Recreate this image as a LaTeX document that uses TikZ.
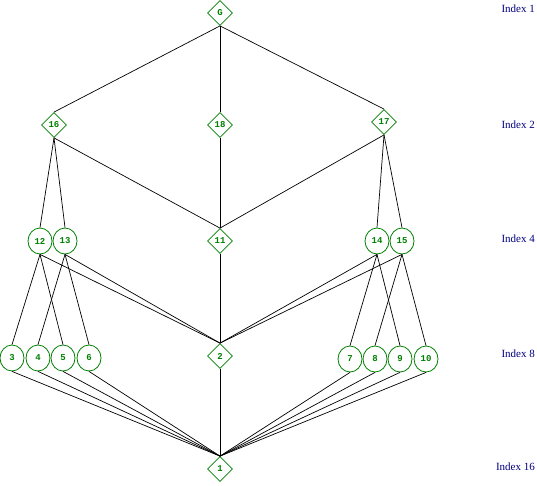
\documentclass[tikz,border=0pt]{standalone}
\usepackage{fontspec}
\setmainfont{Liberation Serif}
\setmonofont{Liberation Mono}
\usetikzlibrary{shapes.geometric}
\definecolor{ngreen}{RGB}{0,128,0}
\definecolor{navyblue}{RGB}{0,0,128}
\tikzset{
  dia/.style={diamond, draw=ngreen, line width=0.8pt, minimum width=25pt, minimum height=25pt, inner sep=0pt, aspect=1, text=ngreen, font=\ttfamily\bfseries\fontsize{9}{9}\selectfont},
  cir/.style={ellipse, draw=ngreen, line width=0.8pt, minimum width=24pt, minimum height=26pt, inner sep=0pt, text=ngreen, font=\ttfamily\bfseries\fontsize{9}{9}\selectfont},
  idx/.style={anchor=east, text=navyblue, font=\fontsize{11}{11}\selectfont, inner sep=0pt},
  edge/.style={draw=black, line width=0.7pt}
}
\begin{document}
\begin{tikzpicture}[x=1pt,y=-1pt]
\useasboundingbox (0,0) rectangle (537,485);
\node[dia] (G) at (220,13) {G};
\node[dia] (n16) at (54,125) {16};
\node[dia] (n18) at (220,125) {18};
\node[dia] (n17) at (384,122) {17};
\node[cir] (n12) at (40,241) {12};
\node[cir] (n13) at (65,241) {13};
\node[dia] (n11) at (220,241) {11};
\node[cir] (n14) at (377,241) {14};
\node[cir] (n15) at (402,241) {15};
\node[cir] (n3) at (12,358) {3};
\node[cir] (n4) at (38,358) {4};
\node[cir] (n5) at (63,358) {5};
\node[cir] (n6) at (89,358) {6};
\node[dia] (n2) at (220,356) {2};
\node[cir] (n7) at (350,359) {7};
\node[cir] (n8) at (375,359) {8};
\node[cir] (n9) at (400,359) {9};
\node[cir] (n10) at (426,359) {10};
\node[dia] (n1) at (220,469) {1};
\node[idx] (i1) at (535,9) {Index 1};
\node[idx] (i2) at (535,125) {Index 2};
\node[idx] (i4) at (535,239) {Index 4};
\node[idx] (i8) at (535,354) {Index 8};
\node[idx] (i16) at (535,467) {Index 16};
\foreach \a/\b in {G/n16,G/n18,G/n17,
  n16/n12,n16/n13,n16/n11,n18/n11,n17/n11,n17/n14,n17/n15,
  n12/n3,n12/n5,n13/n4,n13/n6,n12/n2,n13/n2,n11/n2,n14/n2,n15/n2,
  n14/n7,n14/n9,n15/n8,n15/n10,
  n3/n1,n4/n1,n5/n1,n6/n1,n2/n1,n7/n1,n8/n1,n9/n1,n10/n1}
  \draw[edge] (\a.south) -- (\b.north);
\end{tikzpicture}
\end{document}
